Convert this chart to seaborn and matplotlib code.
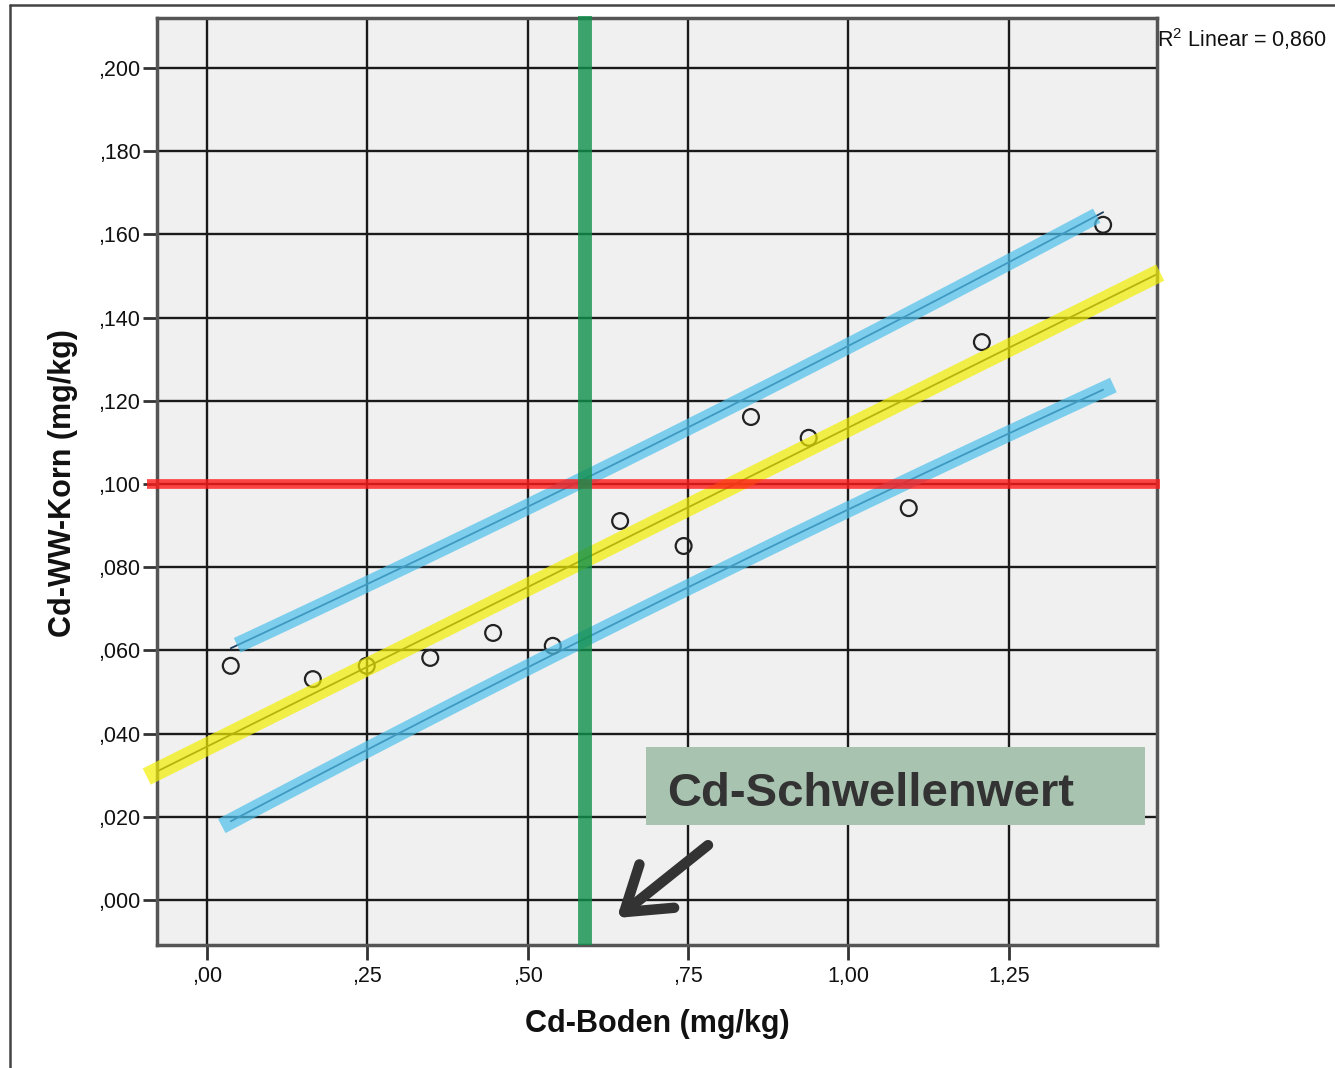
import matplotlib.pyplot as plt
import numpy as np
import pandas as pd
import seaborn as sns
from matplotlib.lines import Line2D
from matplotlib.patches import Rectangle

# values
cd_boden = [0.037, 0.165, 0.249, 0.348, 0.446, 0.539, 0.644, 0.743, 0.848, 0.938, 1.094, 1.208, 1.397]
cd_korn = [0.0563, 0.0531, 0.0563, 0.0582, 0.0642, 0.0611, 0.0911, 0.0851, 0.1161, 0.1111, 0.0942, 0.1341, 0.1623]

x_ticks = [0.0, 0.25, 0.50, 0.75, 1.00, 1.25]
x_tick_labels = [",00", ",25", ",50", ",75", "1,00", "1,25"]
y_ticks = [0.000, 0.020, 0.040, 0.060, 0.080, 0.100, 0.120, 0.140, 0.160, 0.180, 0.200]
y_tick_labels = [",000", ",020", ",040", ",060", ",080", ",100", ",120", ",140", ",160", ",180", ",200"]

grenzwert_korn = 0.100
schwellenwert_boden = 0.589
r2_label = "R$^2$ Linear = 0,860"
box_label = "Cd-Schwellenwert"
x_label = "Cd-Boden (mg/kg)"
y_label = "Cd-WW-Korn (mg/kg)"

# t value used for the interval lines
t_value = 1.363

df = pd.DataFrame({"boden": cd_boden, "korn": cd_korn})

sns.set_style("white")
plt.rcParams["font.family"] = ["Liberation Sans", "DejaVu Sans"]
plt.rcParams["mathtext.fontset"] = "custom"
plt.rcParams["mathtext.rm"] = "Liberation Sans"
plt.rcParams["mathtext.it"] = "Liberation Sans"
plt.rcParams["text.color"] = "#111111"
plt.rcParams["xtick.labelcolor"] = "#111111"
plt.rcParams["ytick.labelcolor"] = "#111111"

fig = plt.figure(figsize=(13.35, 10.68), dpi=100)
ax = fig.add_axes([157 / 1335, 1 - 945 / 1068, 1000 / 1335, 927 / 1068])
ax.set_facecolor("#f0f0f0")

xlim = (-0.078, 1.481)
ylim = (-0.0108, 0.212)
ax.set_xlim(xlim)
ax.set_ylim(ylim)

sns.regplot(
    data=df, x="boden", y="korn", ax=ax, ci=None, truncate=False,
    scatter_kws=dict(facecolors="none", color="#222222", s=130, linewidths=1.6, alpha=1, zorder=3),
    line_kws=dict(color="#2a2a2a", lw=1.3, zorder=2),
)

# interval lines (from the fit)
x = df["boden"].to_numpy()
y = df["korn"].to_numpy()
slope, intercept = np.polyfit(x, y, 1)
resid = y - (intercept + slope * x)
n = len(x)
s = np.sqrt((resid ** 2).sum() / (n - 2))
sxx = ((x - x.mean()) ** 2).sum()


def interval(xv):
    return t_value * s * np.sqrt(1 + 1 / n + (xv - x.mean()) ** 2 / sxx)


xs = np.linspace(x.min(), x.max(), 100)
fit = intercept + slope * xs
ax.plot(xs, fit + interval(xs), color="#1d3f5e", lw=1.3, zorder=2)
ax.plot(xs, fit - interval(xs), color="#1d3f5e", lw=1.3, zorder=2)

# highlight bands drawn on top
xu = np.linspace(x.min() + 0.01, x.max() - 0.01, 100)
ax.plot(xu, intercept + slope * xu + interval(xu), color="#4dc0ec", lw=11.5, alpha=0.7,
        solid_capstyle="butt", zorder=4)
xl = np.linspace(x.min() - 0.014, x.max() + 0.016, 100)
ax.plot(xl, intercept + slope * xl - interval(xl), color="#4dc0ec", lw=11.5, alpha=0.7,
        solid_capstyle="butt", zorder=4)

xe = np.array([xlim[0] - 0.016, xlim[1] + 0.005])
ax.plot(xe, intercept + slope * xe, color="#f2ee00", lw=13, alpha=0.7,
        solid_capstyle="butt", zorder=4, clip_on=False)
ax.plot(xe, [grenzwert_korn, grenzwert_korn], color="#ff1a1a", lw=7, alpha=0.8,
        solid_capstyle="butt", zorder=4, clip_on=False)
ax.plot([schwellenwert_boden, schwellenwert_boden], [ylim[0], ylim[1] + 0.0005],
        color="#10904c", lw=10, alpha=0.8, solid_capstyle="butt", zorder=4, clip_on=False)

# label box and arrow
ax.add_patch(Rectangle((0.684, 0.018), 0.778, 0.0188, facecolor="#a8c3b0",
                       edgecolor="none", zorder=5))
ax.text(0.717, 0.0226, box_label, fontsize=34, fontweight="bold", color="#333333",
        ha="left", va="baseline", zorder=6)
ax.annotate("", xy=(0.639, -0.0043), xytext=(0.781, 0.0132),
            arrowprops=dict(arrowstyle="->,head_length=0.75,head_width=0.5", color="#333333",
                            lw=7.5, mutation_scale=40, shrinkA=0, shrinkB=0,
                            capstyle="round", joinstyle="round"),
            zorder=6)

ax.set_xticks(x_ticks)
ax.set_xticklabels(x_tick_labels)
ax.set_yticks(y_ticks)
ax.set_yticklabels(y_tick_labels)
ax.grid(True, color="#1a1a1a", lw=1.7)
ax.set_axisbelow(True)
ax.tick_params(axis="y", direction="out", length=10, width=2, color="#333333",
               labelsize=15.5, pad=2, left=True)
ax.tick_params(axis="x", direction="out", length=11, width=2, color="#333333",
               labelsize=15.5, pad=4, bottom=True)
for spine in ax.spines.values():
    spine.set_color("#555555")
    spine.set_linewidth(2.5)
ax.set_xlabel("")
ax.set_ylabel("")

fig.text(657 / 1335, 1 - 1024 / 1068, x_label, fontsize=22, fontweight="bold",
         ha="center", va="center")
fig.text(63 / 1335, 1 - 483 / 1068, y_label, fontsize=22, fontweight="bold",
         ha="center", va="center", rotation=90)
fig.text(1157 / 1335, 1 - 39 / 1068, r2_label, fontsize=15.5, ha="left", va="center")

# outer frame
fig.add_artist(Line2D([10 / 1335, 1], [1 - 5 / 1068, 1 - 5 / 1068], color="#444444", lw=1.8))
fig.add_artist(Line2D([10 / 1335, 10 / 1335], [0, 1 - 5 / 1068], color="#444444", lw=1.8))

fig.savefig("out.png", dpi=100, facecolor="white")
